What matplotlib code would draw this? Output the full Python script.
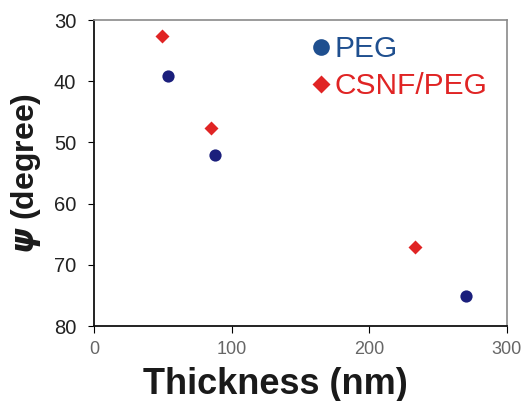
import matplotlib
matplotlib.use('Agg')
import matplotlib.pyplot as plt
from matplotlib.lines import Line2D

plt.rcParams['font.family'] = ['Liberation Sans', 'DejaVu Sans']
plt.rcParams['mathtext.fontset'] = 'dejavusans'

# data
peg_thickness = [53.5, 87.5, 270]
peg_psi = [39.1, 52.1, 75.1]
csnf_thickness = [49.5, 85, 233]
csnf_psi = [32.6, 47.6, 67.1]
x_ticks = [0, 100, 200, 300]
y_ticks = [30, 40, 50, 60, 70, 80]

blue = '#1b1f7c'
blue_leg = '#1f4f8f'
red = '#e02424'

fig = plt.figure(figsize=(5.29, 4.01), dpi=100)
ax = fig.add_axes([0.178, 0.187, 0.780, 0.763])

ax.plot(peg_thickness, peg_psi, 'o', color=blue, ms=8.8, mec='none', zorder=3)
ax.plot(csnf_thickness, csnf_psi, 'D', color=red, ms=7.0, mec='none', zorder=3)

ax.set_xlim(0, 300)
ax.set_ylim(80, 30)
ax.set_xticks(x_ticks)
ax.set_yticks(y_ticks)
ax.tick_params(axis='x', labelsize=13, labelcolor='#666666', direction='out', length=5, pad=6)
ax.tick_params(axis='y', labelsize=14.5, labelcolor='#222222', direction='out', length=4, pad=9)

for s in ['left', 'bottom']:
    ax.spines[s].set_color('#111111')
    ax.spines[s].set_linewidth(1.3)
for s in ['top', 'right']:
    ax.spines[s].set_color('#8a8a8a')
    ax.spines[s].set_linewidth(1.2)

ax.set_xlabel('Thickness (nm)', fontsize=26, fontweight='bold', color='#1a1a1a')
ax.xaxis.set_label_coords(0.44, -0.135)
ax.set_ylabel(r'$\boldsymbol{\psi}$ (degree)', fontsize=23, fontweight='bold', color='#1a1a1a', labelpad=8)

handles = [Line2D([], [], ls='none', marker='o', color=blue_leg, ms=12, mec='none'),
           Line2D([], [], ls='none', marker='D', color=red, ms=9.5, mec='none')]
leg = ax.legend(handles, ['PEG', 'CSNF/PEG'], loc='upper left', bbox_to_anchor=(0.5, 0.99),
                frameon=False, fontsize=21.5, handlelength=0.6, handletextpad=0.15,
                labelspacing=0.3, borderaxespad=0)
for t, c in zip(leg.get_texts(), [blue_leg, red]):
    t.set_color(c)

fig.savefig('out.png', dpi=100)
